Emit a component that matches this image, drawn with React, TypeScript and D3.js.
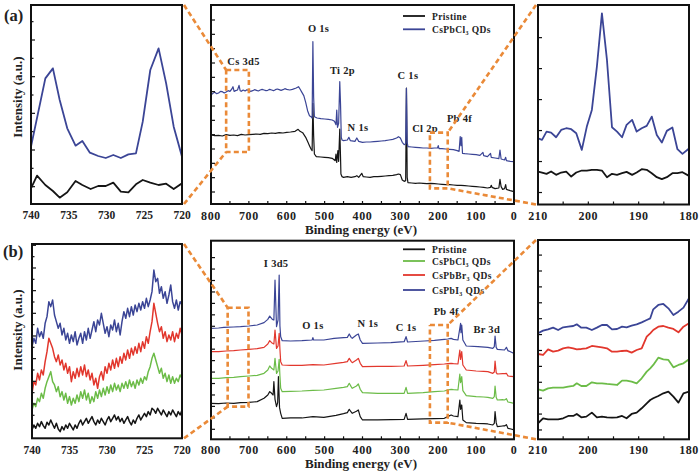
import React from "react";
import * as d3 from "d3";

// ================= DATA =================
// (a) zoom on Cs 3d region (eV, a.u.)
const aCsPristine: [number, number][] = [
  [740, 47], [739.2, 85], [738.1, 57], [737.1, 39], [736.2, 19], [735.2, 35], [734.1, 69], [733.2, 57],
  [732.1, 45], [731.1, 54], [730.1, 54], [729.1, 64], [728.1, 37], [727.1, 35], [726.1, 59], [725.2, 72],
  [724.2, 64], [723.1, 57], [722.1, 61], [721.1, 45], [720, 62],
];
const aCsCl: [number, number][] = [
  [740, 172], [738.1, 377], [737.1, 407], [736.2, 312], [735.2, 227], [734.1, 175], [733.2, 189], [732.2, 154],
  [731.1, 144], [730.1, 138], [729.1, 147], [728.1, 138], [727.1, 149], [726.1, 152], [725.2, 247], [724.2, 402],
  [723.1, 467], [722.1, 362], [721.1, 232], [720, 142],
];

// (a) survey
const aSurveyPristine: [number, number][] = [
  [800, 207], [790, 205], [780, 206], [770, 204], [760, 208], [750, 206], [740, 207], [730, 205], [720, 209],
  [710, 207], [700, 208], [690, 209], [680, 210], [670, 209], [660, 212], [650, 211], [640, 213], [630, 212],
  [620, 214], [610, 213], [600, 215], [590, 216], [578, 218], [570, 224], [565, 218], [558, 214], [550, 200],
  [544, 185], [540, 175], [536, 165], [533, 160], [531, 302], [529, 205], [527, 150], [522, 142], [510, 141],
  [500, 140], [490, 139], [480, 137], [472, 130], [470, 150], [468, 125], [465, 160], [463, 128], [460, 225],
  [458, 140], [457, 90], [454, 82], [450, 80], [440, 82], [430, 80], [420, 82], [415, 85], [410, 80],
  [402, 92], [398, 82], [390, 81], [380, 80], [370, 82], [360, 82], [350, 83], [340, 84], [330, 85], [320, 86],
  [310, 88], [305, 90], [300, 88], [295, 72], [290, 68], [286, 70], [284, 348], [282, 80], [280, 64],
  [270, 63], [260, 62], [250, 63], [240, 62], [230, 61], [220, 62], [210, 61], [200, 60], [190, 59], [180, 58],
  [170, 58], [160, 57], [150, 56], [140, 56], [130, 55], [120, 54], [110, 53], [100, 52], [90, 51], [80, 50],
  [70, 48], [62, 50], [60, 56], [58, 50], [50, 46], [40, 48], [37, 74], [34, 52], [30, 44], [25, 46],
  [22, 58], [20, 44], [10, 40], [0, 37],
];
const aSurveyCl: [number, number][] = [
  [800, 327], [795, 332], [790, 335], [785, 331], [780, 333], [775, 338], [770, 337], [765, 333], [760, 336],
  [755, 340], [750, 338], [745, 345], [742, 352], [739, 338], [735, 340], [730, 342], [726, 356], [723, 340],
  [720, 338], [715, 342], [710, 339], [705, 343], [700, 340], [695, 338], [690, 340], [685, 343], [680, 341],
  [675, 339], [670, 342], [665, 344], [660, 342], [655, 340], [650, 341], [645, 344], [640, 342], [635, 340],
  [630, 343], [625, 345], [620, 343], [615, 341], [610, 343], [605, 346], [600, 344], [592, 342], [585, 344],
  [575, 348], [569, 352], [565, 345], [560, 335], [555, 325], [550, 305], [545, 280], [540, 265], [536, 262],
  [533, 258], [531, 487], [529, 320], [527, 262], [520, 258], [510, 256], [500, 255], [490, 254], [480, 252],
  [474, 248], [470, 238], [468, 282], [466, 230], [463, 242], [460, 367], [458, 300], [456, 200], [454, 192],
  [450, 190], [440, 192], [436, 200], [432, 190], [420, 188], [415, 198], [410, 188], [400, 185], [390, 186],
  [380, 186], [370, 187], [360, 188], [350, 189], [340, 190], [330, 192], [320, 194], [310, 198], [305, 202],
  [300, 198], [295, 185], [290, 178], [286, 180], [284, 347], [282, 185], [280, 172], [270, 171], [260, 170],
  [250, 169], [240, 168], [230, 168], [220, 167], [210, 168], [202, 168], [200, 175], [198, 166], [190, 166],
  [180, 165], [170, 164], [160, 163], [150, 160], [145, 158], [142, 202], [140, 175], [138, 200], [136, 152],
  [130, 151], [120, 150], [110, 149], [100, 148], [90, 146], [82, 155], [80, 145], [70, 142], [62, 152],
  [60, 140], [50, 138], [40, 136], [37, 162], [34, 135], [25, 132], [22, 140], [20, 130], [10, 128], [0, 127],
];

// (a) zoom on Cl 2p region
const aClEnergy = [
  210, 209.2, 208.3, 207.4, 206.4, 205.4, 204.4, 203.4, 202.4, 201.3, 200.3, 199.3, 198.3, 197.3, 196.3, 195.3,
  194.3, 193.3, 192.4, 191.3, 190.4, 189.4, 188.4, 187.4, 186.4, 185.4, 184.4, 183.3, 182.3, 181.3, 180,
];
const aClPristine = [
  99, 96, 92, 99, 89, 96, 99, 84, 96, 102, 102, 104, 104, 102, 82, 92, 89, 94, 98, 89, 96, 106, 104, 94, 82, 76,
  82, 94, 94, 97, 86,
];
const aClCl = [
  199, 194, 219, 216, 202, 224, 229, 226, 214, 164, 234, 284, 414, 574, 434, 232, 219, 202, 239, 254, 219, 229,
  236, 264, 209, 186, 221, 231, 166, 152, 168,
];

// (b) zoom on Cs 3d region, 0.25 eV steps from 740 to 720
const bCsPristine = [
  25, 40, 30, 45, 35, 50, 38, 30, 48, 40, 55, 42, 30, 45, 28, 20, 35, 25, 40, 30, 45, 35, 25, 40, 30, 45, 55, 40,
  50, 60, 45, 55, 65, 50, 40, 55, 45, 60, 50, 40, 55, 65, 50, 60, 70, 55, 65, 50, 60, 45, 55, 65, 50, 40, 55, 45,
  60, 70, 55, 65, 75, 65, 80, 70, 90, 85, 75, 90, 80, 70, 85, 75, 65, 80, 70, 85, 75, 65, 80, 70, 85,
];
const bCsCl = [
  85, 105, 95, 120, 110, 135, 120, 150, 170, 185, 200, 170, 160, 140, 155, 125, 140, 115, 135, 105, 125, 100, 120,
  105, 130, 110, 140, 120, 145, 115, 135, 105, 125, 110, 140, 120, 145, 125, 150, 130, 155, 135, 160, 140, 165,
  145, 160, 140, 165, 150, 170, 150, 175, 155, 170, 150, 175, 160, 180, 165, 185, 175, 200, 215, 240, 255, 235,
  215, 195, 210, 180, 195, 170, 190, 165, 185, 165, 180, 170, 190, 180,
];
const bCsBr = [
  135, 170, 160, 195, 175, 205, 190, 230, 260, 300, 285, 270, 245, 230, 250, 220, 235, 205, 225, 195, 215, 170,
  200, 180, 210, 185, 215, 190, 220, 185, 205, 175, 195, 160, 180, 150, 185, 200, 175, 215, 195, 225, 205, 235,
  210, 240, 215, 245, 225, 255, 235, 265, 240, 270, 250, 275, 255, 285, 260, 290, 270, 305, 285, 320, 350, 405,
  375, 345, 320, 335, 300, 320, 290, 310, 295, 320, 290, 315, 300, 330, 310,
];
const bCsI = [
  275, 300, 285, 330, 305, 320, 300, 345, 365, 410, 395, 415, 370, 350, 330, 345, 310, 330, 295, 315, 285, 310,
  290, 320, 280, 300, 315, 285, 320, 295, 330, 300, 325, 350, 320, 355, 340, 375, 345, 315, 335, 305, 340, 325,
  355, 320, 345, 310, 350, 380, 360, 390, 365, 395, 370, 400, 380, 405, 385, 410, 390, 420, 395, 415, 440, 505,
  470, 480, 435, 455, 420, 440, 405, 430, 460, 410, 390, 415, 385, 410, 400,
];

// (b) survey
const bSurveyPristine: [number, number][] = [
  [800, 108], [780, 107], [760, 109], [740, 108], [722, 110], [700, 111], [678, 113], [660, 123], [650, 133],
  [645, 143], [640, 138], [636, 133], [634, 173], [631, 120], [627, 98], [624, 110], [622, 188], [619, 95],
  [616, 78], [612, 63], [590, 64], [560, 64], [531, 68], [502, 66], [470, 72], [450, 77], [440, 80], [435, 90],
  [430, 82], [427, 78], [416, 84], [411, 88], [406, 68], [400, 58], [360, 58], [325, 59], [290, 60], [285, 78],
  [281, 60], [240, 61], [210, 62], [184, 63], [175, 68], [166, 73], [160, 70], [148, 68], [143, 118], [141, 90],
  [138, 103], [135, 58], [126, 50], [100, 48], [80, 47], [69, 46], [56, 43], [52, 48], [50, 83], [47, 50],
  [44, 38], [30, 40], [25, 40], [20, 44], [16, 33], [8, 31], [0, 28],
];
const bSurveyCl: [number, number][] = [
  [800, 183], [780, 183], [760, 185], [740, 186], [722, 188], [700, 190], [678, 192], [660, 198], [650, 208],
  [645, 220], [640, 213], [634, 208], [631, 243], [627, 198], [623, 205], [620, 240], [618, 190], [616, 153],
  [612, 143], [590, 144], [560, 145], [531, 147], [502, 148], [470, 153], [450, 156], [440, 158], [435, 168],
  [430, 158], [427, 153], [416, 160], [411, 166], [406, 150], [400, 140], [360, 138], [325, 138], [290, 138],
  [285, 156], [281, 138], [240, 140], [210, 143], [184, 145], [175, 148], [166, 150], [160, 149], [148, 148],
  [143, 196], [141, 170], [138, 188], [135, 146], [126, 131], [100, 128], [80, 127], [69, 126], [56, 123],
  [52, 128], [50, 160], [47, 126], [44, 118], [30, 119], [25, 118], [20, 122], [16, 112], [8, 110], [0, 108],
];
const bSurveyBr: [number, number][] = [
  [800, 263], [780, 263], [760, 265], [740, 266], [722, 268], [700, 270], [678, 272], [660, 276], [650, 286],
  [645, 296], [640, 290], [634, 286], [631, 328], [627, 273], [623, 280], [620, 318], [618, 270], [616, 233],
  [612, 223], [590, 222], [560, 222], [531, 224], [502, 223], [470, 228], [450, 231], [440, 233], [435, 243],
  [430, 234], [427, 230], [416, 238], [411, 243], [406, 228], [400, 218], [360, 219], [325, 219], [290, 220],
  [285, 236], [281, 220], [240, 222], [210, 224], [184, 226], [175, 227], [166, 228], [160, 227], [148, 226],
  [143, 268], [141, 240], [138, 263], [135, 223], [126, 208], [100, 205], [80, 204], [69, 203], [56, 198],
  [52, 202], [50, 235], [47, 200], [44, 196], [30, 197], [25, 197], [20, 198], [16, 190], [8, 189], [0, 188],
];
const bSurveyI: [number, number][] = [
  [800, 333], [780, 334], [766, 336], [740, 337], [722, 338], [700, 340], [678, 343], [660, 350], [650, 360],
  [645, 370], [638, 360], [634, 358], [631, 478], [627, 338], [623, 358], [620, 493], [618, 340], [616, 308],
  [612, 296], [590, 295], [560, 296], [533, 298], [531, 305], [529, 298], [502, 298], [475, 303], [450, 305],
  [440, 306], [435, 316], [430, 306], [427, 303], [416, 313], [411, 316], [406, 298], [400, 288], [360, 289],
  [325, 290], [290, 293], [285, 308], [281, 292], [237, 295], [210, 297], [184, 300], [175, 301], [166, 303],
  [160, 300], [148, 298], [141, 348], [140, 320], [138, 343], [135, 298], [126, 280], [95, 278], [69, 276],
  [56, 273], [52, 278], [50, 310], [47, 276], [44, 270], [25, 268], [20, 276], [16, 266], [8, 262], [0, 258],
];

// (b) zoom on Cl 2p / Pb region
const bClEnergy = [
  210, 209, 208, 207, 206, 205, 204, 203, 202.3, 201.4, 200.4, 199.3, 198.3, 197.3, 196.3, 195.3, 194.3, 193.3,
  192.4, 191.4, 190.4, 189.4, 188.4, 187.7, 187.1, 186.1, 185.1, 184.1, 183.1, 182.1, 181.1, 180,
];
const bClPristine = [
  48, 63, 60, 60, 60, 63, 70, 70, 76, 66, 68, 80, 66, 68, 66, 65, 66, 70, 63, 76, 80, 93, 108, 118, 123, 130,
  138, 143, 128, 110, 138, 143,
];
const bClCl = [
  150, 146, 153, 155, 155, 155, 158, 160, 168, 160, 160, 171, 168, 168, 166, 165, 163, 176, 176, 173, 168, 183,
  203, 213, 223, 245, 240, 238, 216, 223, 228, 240,
];
const bClBr = [
  256, 253, 270, 263, 266, 273, 276, 273, 270, 271, 273, 280, 278, 276, 273, 263, 263, 265, 266, 260, 268, 273,
  308, 318, 328, 338, 340, 335, 331, 321, 338, 348,
];
const bClI = [
  318, 326, 330, 335, 328, 336, 338, 340, 345, 335, 335, 328, 335, 343, 343, 330, 331, 338, 336, 341, 345, 351,
  358, 363, 390, 403, 406, 393, 373, 383, 395, 423,
];

const surveyTicks = [800, 700, 600, 500, 400, 300, 200, 100, 0];
const csTicks = [740, 735, 730, 725, 720];
const clTicks = [210, 200, 190, 180];

const legendA = [
  { name: "Pristine", sub: "", key: "k" },
  { name: "CsPbCl", sub: "3", key: "b" },
];
const legendB = [
  { name: "Pristine", sub: "", key: "k" },
  { name: "CsPbCl", sub: "3", key: "g" },
  { name: "CsPbBr", sub: "3", key: "r" },
  { name: "CsPbI", sub: "3", key: "b" },
];

const peaksA = [
  { t: "O 1s", e: 516, v: 527 },
  { t: "Ti 2p", e: 453, v: 400 },
  { t: "C 1s", e: 280, v: 387 },
  { t: "Cs 3d5", e: 714, v: 429 },
  { t: "N 1s", e: 412, v: 229 },
  { t: "Cl 2p", e: 235, v: 227 },
  { t: "Pb 4f", e: 144, v: 257 },
];
const peaksB = [
  { t: "I 3d5", e: 628, v: 528 },
  { t: "O 1s", e: 531, v: 341 },
  { t: "N 1s", e: 386, v: 348 },
  { t: "C 1s", e: 285, v: 336 },
  { t: "Pb 4f", e: 179, v: 385 },
  { t: "Br 3d", e: 72, v: 330 },
];

// ================= STYLE / LAYOUT =================
const FONT = "'Liberation Serif','Times New Roman',serif";
const ORANGE = "#ea8a38";
const COL: Record<string, string> = { k: "#151515", b: "#3b4596", r: "#e2372d", g: "#6cbc48" };

type Frame = { x0: number; x1: number; y0: number; y1: number };
type Ser = { data: [number, number][]; color: string };

const zip = (xs: number[], ys: number[]) => xs.map((x, i) => [x, ys[i]] as [number, number]);
const bCsEnergy = d3.range(bCsI.length).map((i) => 740 - (20 * i) / (bCsI.length - 1));

function makeScales(f: Frame, xDom: [number, number], yMax: number) {
  return {
    x: d3.scaleLinear().domain(xDom).range([f.x0, f.x1]),
    y: d3.scaleLinear().domain([0, yMax]).range([f.y1, f.y0]),
  };
}

function Panel(props: {
  id: string;
  f: Frame;
  sc: { x: d3.ScaleLinear<number, number>; y: d3.ScaleLinear<number, number> };
  series: Ser[];
  lw: number;
  yTicks: number[];
  altMinor?: boolean;
  xTickMarks: number[];
  xLabels: number[];
  labelSize: number;
  labelY: number;
  labelSpacing?: number;
}) {
  const { id, f, sc, series, lw, yTicks, altMinor, xTickMarks, xLabels, labelSize, labelY, labelSpacing } = props;
  const line = d3.line<[number, number]>().x((d) => sc.x(d[0])).y((d) => sc.y(d[1]));
  return (
    <g>
      <clipPath id={id}>
        <rect x={f.x0} y={f.y0} width={f.x1 - f.x0} height={f.y1 - f.y0} />
      </clipPath>
      <g clipPath={`url(#${id})`}>
        {series.map((s, i) => (
          <path key={i} d={line(s.data) || ""} fill="none" stroke={s.color} strokeWidth={lw} strokeLinejoin="round" />
        ))}
      </g>
      {yTicks.map((t, i) => (
        <line key={"y" + i} x1={f.x0} x2={f.x0 + (altMinor && i % 2 === 1 ? 2.5 : 4)} y1={sc.y(t)} y2={sc.y(t)} stroke="#111" strokeWidth={1.2} />
      ))}
      {xTickMarks.map((t, i) => (
        <line key={"x" + i} x1={sc.x(t)} x2={sc.x(t)} y1={f.y1} y2={f.y1 - 3} stroke="#111" strokeWidth={1.2} />
      ))}
      <rect x={f.x0} y={f.y0} width={f.x1 - f.x0} height={f.y1 - f.y0} fill="none" stroke="#111" strokeWidth={2} />
      {xLabels.map((t, i) => (
        <text key={"l" + i} x={sc.x(t)} y={labelY} textAnchor="middle" fontFamily={FONT} fontWeight="bold" fontSize={labelSize} letterSpacing={labelSpacing || 0} fill="#222">
          {t}
        </text>
      ))}
    </g>
  );
}

function Legend(props: { x: number; ys: number[]; items: { name: string; sub: string; key: string }[] }) {
  return (
    <g>
      {props.items.map((it, i) => (
        <g key={i}>
          <line x1={props.x} x2={props.x + 22} y1={props.ys[i]} y2={props.ys[i]} stroke={COL[it.key]} strokeWidth={1.8} />
          <text x={props.x + 29} y={props.ys[i] + 3.5} fontFamily={FONT} fontWeight="bold" fontSize={9.5} letterSpacing={0.4} fill="#222">
            {it.name}
            {it.sub ? (
              <tspan fontSize={6} dy={2}>{it.sub}</tspan>
            ) : null}
            {it.sub ? <tspan dy={-2}> QDs</tspan> : null}
          </text>
        </g>
      ))}
    </g>
  );
}

function Dashed(props: { pts: [number, number][] }) {
  const l = d3.line<[number, number]>();
  return <path d={l(props.pts) || ""} fill="none" stroke={ORANGE} strokeWidth={2.6} strokeDasharray="5,3.2" />;
}

export default function App() {
  // frames
  const fTL: Frame = { x0: 31, x1: 182, y0: 5, y1: 204 };
  const fTM: Frame = { x0: 211, x1: 514, y0: 5, y1: 204 };
  const fTR: Frame = { x0: 538, x1: 689, y0: 5, y1: 204.5 };
  const fBL: Frame = { x0: 32, x1: 182, y0: 244, y1: 438.3 };
  const fBM: Frame = { x0: 211, x1: 514, y0: 240.7, y1: 439.3 };
  const fBR: Frame = { x0: 538, x1: 689, y0: 240, y1: 439.3 };

  const sTL = makeScales(fTL, [740, 720], 597);
  const sTM = makeScales(fTM, [800, 0], 597);
  const sTR = makeScales(fTR, [210, 180], 599);
  const sBL = makeScales(fBL, [740, 720], 583);
  const sBM = makeScales(fBM, [800, 0], 596);
  const sBR = makeScales(fBR, [210, 180], 598);

  const yt = (start: number, step: number, n: number) => d3.range(n).map((k) => start + step * k);

  // zoom boxes (in survey data units)
  const boxA1 = { e: [760, 700], v: [156, 402] };
  const boxA2 = { e: [222, 175], v: [47, 214] };
  const boxB1 = { e: [756, 701], v: [98, 395] };
  const boxB2 = { e: [222, 175], v: [50, 343] };
  const boxRect = (b: { e: number[]; v: number[] }, s: typeof sTM) => {
    const x0 = s.x(b.e[0]), x1 = s.x(b.e[1]), y0 = s.y(b.v[1]), y1 = s.y(b.v[0]);
    return { x0, x1, y0, y1 };
  };
  const rA1 = boxRect(boxA1, sTM), rA2 = boxRect(boxA2, sTM), rB1 = boxRect(boxB1, sBM), rB2 = boxRect(boxB2, sBM);
  const rectPts = (r: { x0: number; x1: number; y0: number; y1: number }): [number, number][] => [
    [r.x0, r.y0], [r.x1, r.y0], [r.x1, r.y1], [r.x0, r.y1], [r.x0, r.y0],
  ];

  const labelTxt = (t: string, x: number, y: number, key: string) => (
    <text key={key} x={x} y={y} dy="0.35em" textAnchor="middle" fontFamily={FONT} fontWeight="bold" fontSize={10.5} letterSpacing={0.3} fill="#222">
      {t}
    </text>
  );

  return (
    <svg width={700} height={473} style={{ position: "absolute", left: 0, top: 0, background: "#fff" }}>
      <rect x={0} y={0} width={700} height={473} fill="#fff" />

      {/* ===== (a) ===== */}
      <Panel id="cTL" f={fTL} sc={sTL} lw={1.8}
        series={[{ data: aCsPristine, color: COL.k }, { data: aCsCl, color: COL.b }]}
        yTicks={yt(52, 55, 10)} altMinor xTickMarks={[]} xLabels={csTicks} labelSize={11.5} labelY={218.5} />
      <Panel id="cTM" f={fTM} sc={sTM} lw={1.2}
        series={[{ data: aSurveyPristine, color: COL.k }, { data: aSurveyCl, color: COL.b }]}
        yTicks={yt(36, 43, 13)} xTickMarks={d3.range(50, 800, 50)} xLabels={surveyTicks} labelSize={12} labelY={219.5} labelSpacing={0.6} />
      <Panel id="cTR" f={fTR} sc={sTR} lw={1.8}
        series={[{ data: zip(aClEnergy, aClPristine), color: COL.k }, { data: zip(aClEnergy, aClCl), color: COL.b }]}
        yTicks={yt(36, 93, 6)} xTickMarks={[205, 200, 195, 190, 185]} xLabels={clTicks} labelSize={12} labelY={220} labelSpacing={0.5} />

      <Legend x={403} ys={[16, 29.3]} items={legendA} />
      {peaksA.map((p, i) => labelTxt(p.t, sTM.x(p.e), sTM.y(p.v), "pa" + i))}

      <text x={4} y={21} fontFamily={FONT} fontWeight="bold" fontSize={16.5} fill="#222">(a)</text>
      <text transform="translate(17,97) rotate(-90)" textAnchor="middle" dy="0.35em" fontFamily={FONT} fontWeight="bold" fontSize={13} fill="#222">
        Intensity (a.u.)
      </text>
      <text x={361} y={233.5} textAnchor="middle" fontFamily={FONT} fontWeight="bold" fontSize={13} fill="#222">Binding energy (eV)</text>

      {/* ===== (b) ===== */}
      <Panel id="cBL" f={fBL} sc={sBL} lw={1.5}
        series={[
          { data: zip(bCsEnergy, bCsPristine), color: COL.k },
          { data: zip(bCsEnergy, bCsCl), color: COL.g },
          { data: zip(bCsEnergy, bCsBr), color: COL.r },
          { data: zip(bCsEnergy, bCsI), color: COL.b },
        ]}
        yTicks={yt(35, 34, 17)} altMinor xTickMarks={[]} xLabels={csTicks} labelSize={11.5} labelY={453.5} />
      <Panel id="cBM" f={fBM} sc={sBM} lw={1.2}
        series={[
          { data: bSurveyPristine, color: COL.k },
          { data: bSurveyCl, color: COL.g },
          { data: bSurveyBr, color: COL.r },
          { data: bSurveyI, color: COL.b },
        ]}
        yTicks={yt(30, 34.35, 16)} xTickMarks={d3.range(50, 800, 50)} xLabels={surveyTicks} labelSize={12} labelY={454} labelSpacing={0.6} />
      <Panel id="cBR" f={fBR} sc={sBR} lw={1.8}
        series={[
          { data: zip(bClEnergy, bClPristine), color: COL.k },
          { data: zip(bClEnergy, bClCl), color: COL.g },
          { data: zip(bClEnergy, bClBr), color: COL.r },
          { data: zip(bClEnergy, bClI), color: COL.b },
        ]}
        yTicks={yt(28, 47.7, 12)} xTickMarks={[205, 200, 195, 190, 185]} xLabels={clTicks} labelSize={12} labelY={454} labelSpacing={0.5} />

      <Legend x={403} ys={[249.3, 261, 275, 290]} items={legendB} />
      {peaksB.map((p, i) => labelTxt(p.t, sBM.x(p.e), sBM.y(p.v), "pb" + i))}

      <text x={3} y={257} fontFamily={FONT} fontWeight="bold" fontSize={16.5} fill="#222">(b)</text>
      <text transform="translate(17,330) rotate(-90)" textAnchor="middle" dy="0.35em" fontFamily={FONT} fontWeight="bold" fontSize={13} fill="#222">
        Intensity (a.u.)
      </text>
      <text x={361} y={468} textAnchor="middle" fontFamily={FONT} fontWeight="bold" fontSize={13} fill="#222">Binding energy (eV)</text>

      {/* ===== orange zoom boxes and connectors ===== */}
      <Dashed pts={rectPts(rA1)} />
      <Dashed pts={rectPts(rA2)} />
      <Dashed pts={rectPts(rB1)} />
      <Dashed pts={rectPts(rB2)} />
      <Dashed pts={[[fTL.x1 + 2, fTL.y0], [rA1.x0, rA1.y0]]} />
      <Dashed pts={[[fTL.x1 + 2, fTL.y1], [rA1.x0, rA1.y1]]} />
      <Dashed pts={[[fTR.x0 - 2, fTR.y0], [rA2.x1, rA2.y0]]} />
      <Dashed pts={[[fTR.x0 - 2, fTR.y1], [rA2.x1, rA2.y1]]} />
      <Dashed pts={[[fBL.x1 + 2, fBL.y0], [rB1.x0, rB1.y0]]} />
      <Dashed pts={[[fBL.x1 + 2, fBL.y1], [rB1.x0, rB1.y1]]} />
      <Dashed pts={[[fBR.x0 - 2, fBR.y0], [rB2.x1, rB2.y0]]} />
      <Dashed pts={[[fBR.x0 - 2, fBR.y1], [rB2.x1, rB2.y1]]} />
    </svg>
  );
}
